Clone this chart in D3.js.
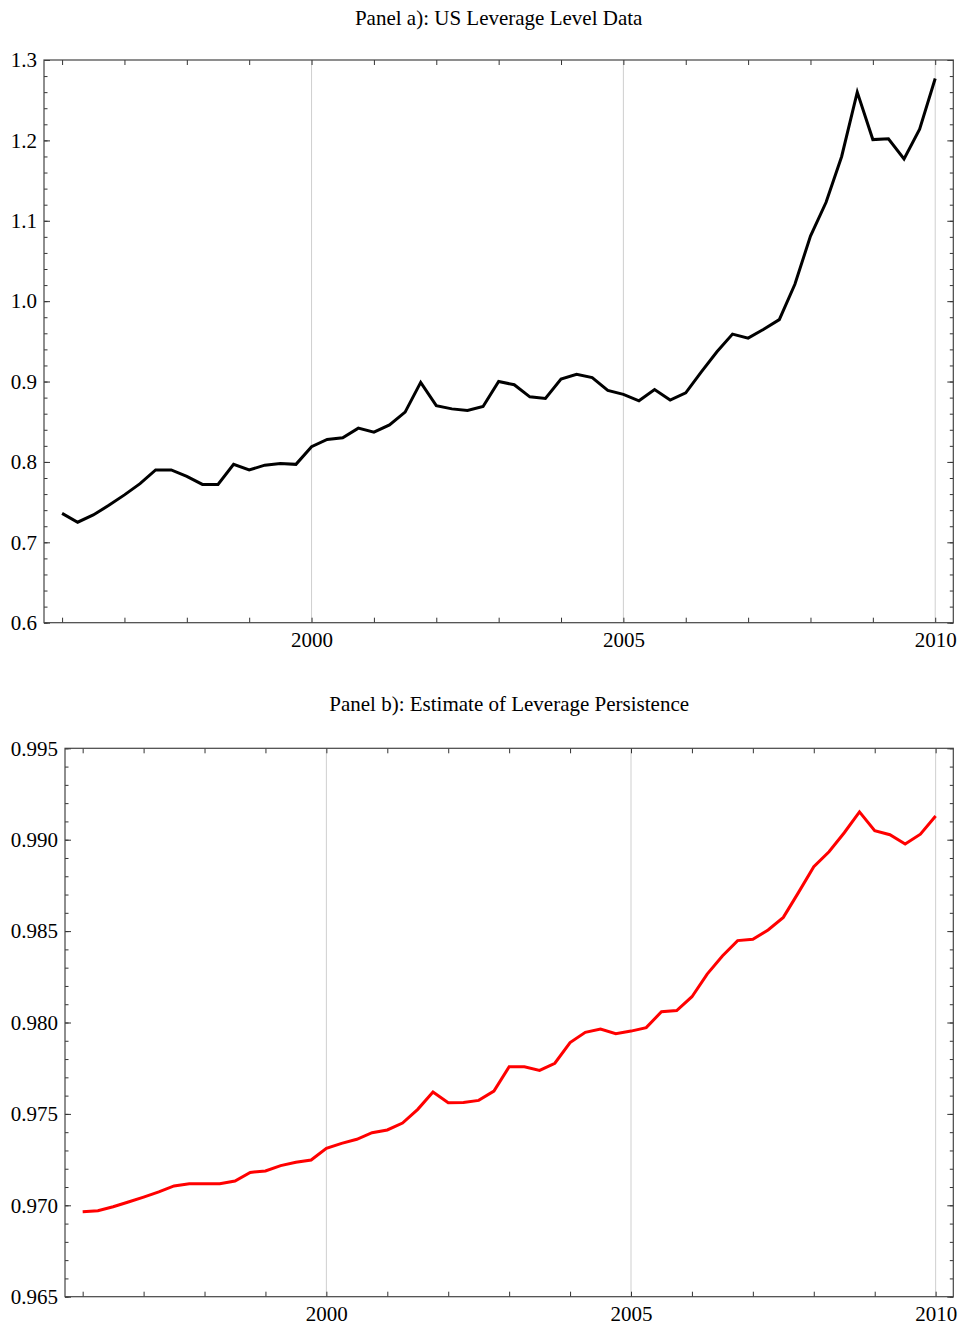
<!DOCTYPE html>
<meta charset="utf-8">
<head>
<title>Leverage panels</title>
<style>
body { margin: 0; background: #fff; }
svg { display: block; }
.title { font-family: "Liberation Serif", "Times New Roman", serif; font-size: 21px; fill: #000; }
.tick text { font-family: "Liberation Serif", "Times New Roman", serif; font-size: 21px; fill: #000; }
.domain { display: none; }
.tick line { stroke: #333; stroke-width: 1px; }
.frame { fill: none; stroke: #444; stroke-width: 1.2px; }
.grid { stroke: #cfcfcf; stroke-width: 1px; }
</style>
</head>
<body>
<script src="https://cdn.jsdelivr.net/npm/d3@7"></script>
<script>

// quarterly dates, 1996Q1 .. 2010Q1
var quarters = d3.range(57).map(function (k) { return 1996 + k / 4; });

// Panel a) leverage level
var leverage = [
  0.736, 0.725, 0.734, 0.746, 0.759, 0.773, 0.790, 0.790, 0.782, 0.772,
  0.772, 0.797, 0.790, 0.796, 0.798, 0.797, 0.819, 0.828, 0.830, 0.842,
  0.837, 0.846, 0.862, 0.899, 0.870, 0.866, 0.864, 0.869, 0.900, 0.896,
  0.881, 0.879, 0.903, 0.909, 0.905, 0.889, 0.884, 0.876, 0.890, 0.877,
  0.886, 0.912, 0.937, 0.959, 0.954, 0.965, 0.977, 1.021, 1.081, 1.123,
  1.180, 1.260, 1.201, 1.202, 1.177, 1.214, 1.277
];

// Panel b) persistence estimate
var persistence = [
  0.96965, 0.96970, 0.96992, 0.97018, 0.97045, 0.97073, 0.97106, 0.97118, 0.97118, 0.97118,
  0.97133, 0.97180, 0.97188, 0.97217, 0.97235, 0.97248, 0.97312, 0.97339, 0.97361, 0.97397,
  0.97412, 0.97450, 0.97525, 0.97620, 0.97561, 0.97563, 0.97574, 0.97625, 0.97758, 0.97758,
  0.97738, 0.97777, 0.97890, 0.97946, 0.97964, 0.97939, 0.97953, 0.97972, 0.98059, 0.98065,
  0.98141, 0.98265, 0.98364, 0.98448, 0.98455, 0.98506, 0.98575, 0.98712, 0.98852, 0.98934,
  0.99038, 0.99152, 0.99049, 0.99027, 0.98976, 0.99030, 0.99130
];

var xTickYears = d3.range(1996, 2011);
var xLabelYears = [2000, 2005, 2010];
var gridYears = [2000, 2005, 2010];

var width = 961, height = 1328;

var svg = d3.select('body').append('svg')
    .attr('width', width)
    .attr('height', height);

function panel(opts) {
  var x = d3.scaleLinear().domain([1995.71, 2010.29]).range([opts.left, opts.right]);
  var y = d3.scaleLinear().domain(opts.yDomain).range([opts.bottom, opts.top]);
  var g = svg.append('g');

  g.selectAll('.grid')
    .data(gridYears)
    .enter().append('line')
      .attr('class', 'grid')
      .attr('x1', function (d) { return x(d); })
      .attr('x2', function (d) { return x(d); })
      .attr('y1', opts.top)
      .attr('y2', opts.bottom);

  var xfmt = function (d) { return xLabelYears.indexOf(d) >= 0 ? d : ''; };

  // bottom axis with labels, ticks inward
  g.append('g')
    .attr('transform', 'translate(0,' + opts.bottom + ')')
    .call(d3.axisBottom(x).tickValues(xTickYears).tickSize(-5).tickPadding(9).tickFormat(xfmt));

  g.append('g')
    .attr('transform', 'translate(0,' + opts.top + ')')
    .call(d3.axisTop(x).tickValues(xTickYears).tickSize(-5).tickFormat(''));

  // y axes: major + minor on both sides
  g.append('g')
    .attr('transform', 'translate(' + opts.left + ',0)')
    .call(d3.axisLeft(y).tickValues(opts.yMajor).tickSize(-6).tickPadding(7).tickFormat(d3.format(opts.fmt)));
  g.append('g')
    .attr('transform', 'translate(' + opts.left + ',0)')
    .call(d3.axisLeft(y).tickValues(opts.yMinor).tickSize(-3.5).tickFormat(''));
  g.append('g')
    .attr('transform', 'translate(' + opts.right + ',0)')
    .call(d3.axisRight(y).tickValues(opts.yMajor).tickSize(-6).tickFormat(''));
  g.append('g')
    .attr('transform', 'translate(' + opts.right + ',0)')
    .call(d3.axisRight(y).tickValues(opts.yMinor).tickSize(-3.5).tickFormat(''));

  g.append('rect')
    .attr('class', 'frame')
    .attr('x', opts.left)
    .attr('y', opts.top)
    .attr('width', opts.right - opts.left)
    .attr('height', opts.bottom - opts.top);

  var line = d3.line()
      .x(function (d, i) { return x(quarters[i]); })
      .y(function (d) { return y(d); });

  g.append('path')
    .datum(opts.values)
    .attr('d', line)
    .attr('fill', 'none')
    .attr('stroke', opts.color)
    .attr('stroke-width', 3)
    .attr('stroke-linejoin', 'miter');

  g.append('text')
    .attr('class', 'title')
    .attr('x', (opts.left + opts.right) / 2)
    .attr('y', opts.titleY)
    .attr('text-anchor', 'middle')
    .text(opts.title);
}

function steps(a, b, s) {
  var n = Math.round((b - a) / s);
  return d3.range(n + 1).map(function (i) { return +(a + i * s).toFixed(4); });
}

panel({
  left: 44, right: 953.3, top: 60, bottom: 622.7,
  yDomain: [0.6, 1.3],
  yMajor: steps(0.6, 1.3, 0.1),
  yMinor: steps(0.6, 1.3, 0.02),
  fmt: '.1f',
  values: leverage,
  color: '#000',
  titleY: 25,
  title: 'Panel a): US Leverage Level Data'
});

panel({
  left: 65, right: 953.3, top: 748.3, bottom: 1296.7,
  yDomain: [0.965, 0.995],
  yMajor: steps(0.965, 0.995, 0.005),
  yMinor: steps(0.965, 0.995, 0.001),
  fmt: '.3f',
  values: persistence,
  color: '#ff0000',
  titleY: 711,
  title: 'Panel b): Estimate of Leverage Persistence'
});
</script>
</body>
